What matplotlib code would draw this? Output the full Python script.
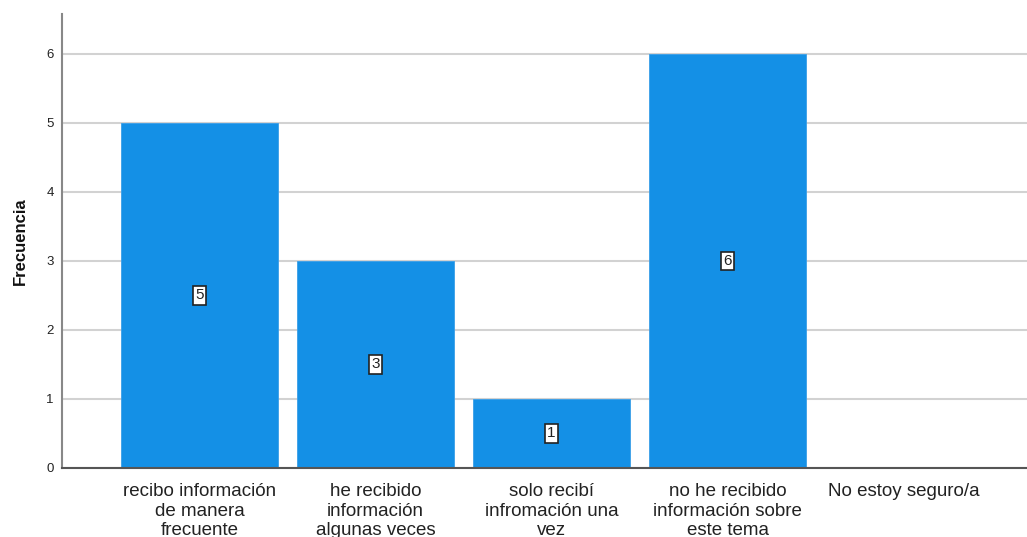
import matplotlib.pyplot as plt
import numpy as np

plt.rcParams['font.family'] = ['Liberation Sans', 'DejaVu Sans']

categories = ['recibo información\nde manera\nfrecuente',
              'he recibido\ninformación\nalgunas veces',
              'solo recibí\ninfromación una\nvez',
              'no he recibido\ninformación sobre\neste tema',
              'No estoy seguro/a']
counts = [5, 3, 1, 6, 0]
yticks = [0, 1, 2, 3, 4, 5, 6]

fig = plt.figure(figsize=(10.27, 5.37), dpi=100)
ax = fig.add_axes([0.0604, 0.1285, 0.9396, 0.8455])

x = np.arange(len(categories))
ax.bar(x, counts, width=0.89, color='#1490e6', edgecolor='#3a9fe8', linewidth=0.6, zorder=2)

for xi, c in zip(x, counts):
    if c > 0:
        ax.text(xi, c / 2, str(c), ha='center', va='center', fontsize=11, color='#222222', zorder=3,
                bbox=dict(boxstyle='square,pad=0.15', facecolor='white', edgecolor='#222222', linewidth=1.2))

ax.set_xlim(-0.78, 4.70)
ax.set_ylim(0, 6.58)
ax.set_yticks(yticks)
ax.set_xticks(x)
ax.set_xticklabels(categories, fontsize=13.5, color='#222222', linespacing=1.2)
ax.tick_params(axis='y', length=0, labelsize=9.5, colors='#222222', pad=6)
ax.tick_params(axis='x', length=0, pad=11)
ax.yaxis.grid(True, color='#d2d2d2', linewidth=1.5, zorder=0)
ax.set_axisbelow(True)

for s in ['top', 'right']:
    ax.spines[s].set_visible(False)
ax.spines['left'].set_color('#888888')
ax.spines['left'].set_linewidth(1.5)
ax.spines['bottom'].set_color('#555555')
ax.spines['bottom'].set_linewidth(1.5)

ax.set_ylabel('Frecuencia', fontsize=12, fontweight='bold', color='#111111', labelpad=13)

fig.savefig('out.png', dpi=100)
